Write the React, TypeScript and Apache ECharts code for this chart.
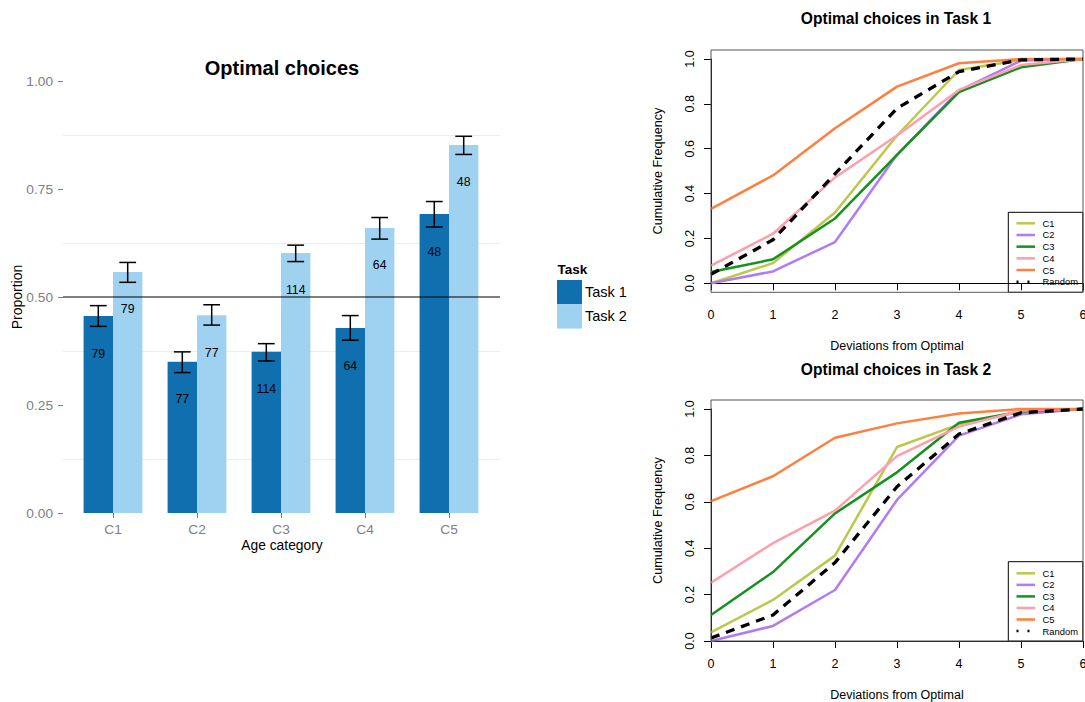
import React, { useEffect, useRef } from 'react';
import * as echarts from 'echarts';

const FONT = '"Liberation Sans", Arial, Helvetica, sans-serif';

// ---- Left chart data ----
const ageCategories = ['C1', 'C2', 'C3', 'C4', 'C5'];
const taskNames = ['Task 1', 'Task 2'];
const task1Proportion = [0.456, 0.35, 0.373, 0.428, 0.692];
const task2Proportion = [0.558, 0.458, 0.602, 0.66, 0.852];
const task1Lower = [0.432, 0.325, 0.352, 0.4, 0.662];
const task1Upper = [0.48, 0.373, 0.392, 0.457, 0.721];
const task2Lower = [0.534, 0.435, 0.582, 0.634, 0.83];
const task2Upper = [0.58, 0.482, 0.62, 0.684, 0.872];
const sampleSizes = [79, 77, 114, 64, 48];
const chanceLevel = 0.5;

// ---- Right charts data ----
const deviations = [0, 1, 2, 3, 4, 5, 6];
const lineNames = ['C1', 'C2', 'C3', 'C4', 'C5', 'Random'];
const t1C1 = [0.0, 0.09, 0.316, 0.659, 0.951, 0.996, 1.0];
const t1C2 = [0.0, 0.053, 0.184, 0.573, 0.859, 0.993, 1.0];
const t1C3 = [0.05, 0.107, 0.289, 0.573, 0.852, 0.963, 1.0];
const t1C4 = [0.079, 0.221, 0.472, 0.659, 0.862, 0.973, 1.0];
const t1C5 = [0.332, 0.481, 0.691, 0.877, 0.981, 1.0, 1.0];
const t1Random = [0.04, 0.194, 0.488, 0.78, 0.944, 0.996, 1.0];
const t2C1 = [0.037, 0.177, 0.368, 0.836, 0.934, 0.988, 1.0];
const t2C2 = [0.0, 0.065, 0.22, 0.608, 0.885, 0.977, 1.0];
const t2C3 = [0.112, 0.297, 0.55, 0.727, 0.941, 0.989, 1.0];
const t2C4 = [0.251, 0.422, 0.562, 0.797, 0.924, 0.993, 1.0];
const t2C5 = [0.603, 0.71, 0.876, 0.938, 0.981, 1.0, 1.0];
const t2Random = [0.013, 0.112, 0.338, 0.665, 0.892, 0.984, 1.0];

const barColors = ['#1070AF', '#9FD1F1'];
const lineColors = ['#BCC84C', '#B07CF5', '#16901F', '#FF9EAD', '#FF7F3F', '#000000'];

function buildOption() {
  const task1Series = [t1C1, t1C2, t1C3, t1C4, t1C5, t1Random];
  const task2Series = [t2C1, t2C2, t2C3, t2C4, t2C5, t2Random];

  const lineSeries = (arr: number[][], gridIdx: number) =>
    arr.map((vals, k) => ({
      type: 'line',
      name: lineNames[k],
      xAxisIndex: gridIdx,
      yAxisIndex: gridIdx,
      data: vals.map((v, i) => [deviations[i], v]),
      symbol: 'none',
      clip: false,
      z: 3 + k,
      lineStyle: {
        color: lineColors[k],
        width: k === 5 ? 3.3 : 2.5,
        type: k === 5 ? [9, 7] : 'solid',
        cap: 'butt',
      },
    }));

  const errorSeries = (lo: number[], hi: number[], sign: number) => ({
    type: 'custom',
    xAxisIndex: 0,
    yAxisIndex: 0,
    z: 6,
    data: lo.map((l, i) => [i, l, hi[i]]),
    encode: { x: 0, y: [1, 2] },
    renderItem: (params: any, api: any) => {
      const i = api.value(0);
      const l = api.value(1);
      const h = api.value(2);
      const band = api.size([1, 0])[0];
      const ph = api.coord([i, h]);
      const pl = api.coord([i, l]);
      const x = ph[0] + sign * band * 0.175;
      const hw = band * 0.1;
      const style = { stroke: '#000', lineWidth: 1.5 };
      return {
        type: 'group',
        children: [
          { type: 'line', shape: { x1: x, y1: ph[1], x2: x, y2: pl[1] }, style },
          { type: 'line', shape: { x1: x - hw, y1: ph[1], x2: x + hw, y2: ph[1] }, style },
          { type: 'line', shape: { x1: x - hw, y1: pl[1], x2: x + hw, y2: pl[1] }, style },
        ],
      };
    },
  });

  const rightXAxis = (gridIndex: number, offset: number) => ({
    type: 'value',
    gridIndex,
    min: 0,
    max: 6,
    interval: 1,
    offset,
    axisLine: { show: true, lineStyle: { color: '#000', width: 1 } },
    axisTick: { show: true, inside: false, length: 7, lineStyle: { color: '#000' } },
    axisLabel: { show: true, color: '#000', fontSize: 12.5, fontFamily: FONT, margin: 16, showMinLabel: true, showMaxLabel: true, hideOverlap: false },
    splitLine: { show: false },
  });
  const rightYAxis = (gridIndex: number) => ({
    type: 'value',
    gridIndex,
    min: 0,
    max: 1,
    interval: 0.2,
    axisLine: { show: true, lineStyle: { color: '#000', width: 1 } },
    axisTick: { show: true, inside: false, length: 7, lineStyle: { color: '#000' } },
    axisLabel: {
      show: true,
      color: '#000',
      fontSize: 12.5,
      fontFamily: FONT,
      rotate: 90,
      margin: 15,
      formatter: (v: number) => v.toFixed(1),
    },
    splitLine: { show: false },
  });

  const txt = (text: string, x: number, y: number, size: number, bold = false, rot = 0, color = '#000', align = 'center') => ({
    type: 'text',
    x,
    y,
    rotation: rot,
    z: 50,
    style: {
      text,
      fill: color,
      fontSize: size,
      fontWeight: bold ? 'bold' : 'normal',
      fontFamily: FONT,
      textAlign: align,
      align,
      textVerticalAlign: 'middle',
      verticalAlign: 'middle',
    },
  });

  const lineLegend = (boxY: number, boxH: number, y0: number, step: number) => {
    const children: any[] = [
      { type: 'rect', shape: { x: 1008.3, y: boxY, width: 74.5, height: boxH }, style: { fill: '#fff', stroke: '#000', lineWidth: 1 } },
    ];
    lineNames.forEach((n, k) => {
      const y = y0 + k * step;
      children.push({
        type: 'line',
        shape: { x1: 1016.5, y1: y, x2: 1035, y2: y },
        style: {
          stroke: lineColors[k],
          lineWidth: 2.5,
          lineDash: k === 5 ? [2, 9] : null,
        },
      });
      children.push(txt(n, 1042.5, y, 9.4, false, 0, '#000', 'left'));
    });
    return { type: 'group', z: 100, children };
  };

  return {
    animation: false,
    backgroundColor: '#fff',
    textStyle: { fontFamily: FONT },
    grid: [
      { left: 71, top: 81, width: 420, height: 432, outerBoundsMode: 'none', containLabel: false },
      { left: 63, top: 81, width: 437, height: 432, outerBoundsMode: 'none', containLabel: false },
      { left: 711, top: 59, width: 372, height: 224.3, outerBoundsMode: 'none', containLabel: false },
      { left: 711, top: 409, width: 372, height: 232, outerBoundsMode: 'none', containLabel: false },
    ],
    legend: {
      data: taskNames,
      orient: 'vertical',
      left: 557,
      top: 280,
      itemWidth: 25,
      itemHeight: 24.3,
      itemGap: 0,
      icon: 'rect',
      padding: 0,
      selectedMode: false,
      textStyle: { fontSize: 14.5, fontFamily: FONT, color: '#000', padding: [0, 0, 0, -2] },
    },
    xAxis: [
      {
        type: 'category',
        gridIndex: 0,
        data: ageCategories,
        axisLine: { show: false },
        axisTick: { show: true, alignWithLabel: true, length: 5, lineStyle: { color: '#7f7f7f' } },
        axisLabel: { color: '#7f7f7f', fontSize: 13.7, fontFamily: FONT, margin: 9 },
        splitLine: { show: false },
      },
      { type: 'value', gridIndex: 1, min: 0, max: 1, show: false },
      rightXAxis(2, 9),
      rightXAxis(3, 0),
    ],
    yAxis: [
      {
        type: 'value',
        gridIndex: 0,
        min: 0,
        max: 1,
        interval: 0.25,
        offset: 8,
        axisLine: { show: false },
        axisTick: { show: true, length: 5, lineStyle: { color: '#7f7f7f' } },
        axisLabel: { color: '#7f7f7f', fontSize: 13.7, fontFamily: FONT, margin: 10, formatter: (v: number) => v.toFixed(2) },
        splitLine: { show: false },
      },
      {
        type: 'value',
        gridIndex: 1,
        min: 0,
        max: 1,
        interval: 0.125,
        axisLine: { show: false },
        axisTick: { show: false },
        axisLabel: { show: false },
        splitLine: { show: true, lineStyle: { color: ['rgba(0,0,0,0)', '#ededed'], width: 1 } },
      },
      rightYAxis(2),
      rightYAxis(3),
    ],
    series: [
      {
        type: 'line',
        name: 'chance',
        xAxisIndex: 1,
        yAxisIndex: 1,
        data: [[0, chanceLevel], [1, chanceLevel]],
        symbol: 'none',
        z: 8,
        lineStyle: { color: '#000', width: 1.2 },
      },
      {
        type: 'bar',
        name: taskNames[0],
        xAxisIndex: 0,
        yAxisIndex: 0,
        data: task1Proportion,
        barWidth: 29.4,
        barGap: '0%',
        itemStyle: { color: barColors[0] },
        label: {
          show: true,
          position: 'insideTop',
          distance: 31.5,
          color: '#000',
          fontSize: 12.3,
          fontFamily: FONT,
          formatter: (p: any) => String(sampleSizes[p.dataIndex]),
        },
      },
      {
        type: 'bar',
        name: taskNames[1],
        xAxisIndex: 0,
        yAxisIndex: 0,
        data: task2Proportion,
        barWidth: 29.4,
        barGap: '0%',
        itemStyle: { color: barColors[1] },
        label: {
          show: true,
          position: 'insideTop',
          distance: 31.5,
          color: '#000',
          fontSize: 12.3,
          fontFamily: FONT,
          formatter: (p: any) => String(sampleSizes[p.dataIndex]),
        },
      },
      errorSeries(task1Lower, task1Upper, -1),
      errorSeries(task2Lower, task2Upper, 1),
      ...lineSeries(task1Series, 2),
      ...lineSeries(task2Series, 3),
    ],
    graphic: [
      txt('Optimal choices', 282, 68, 20, true),
      txt('Proportion', 17, 297, 14, false, Math.PI / 2),
      txt('Age category', 282, 545.5, 13.8),
      txt('Task', 557.5, 269.3, 13.5, true, 0, '#000', 'left'),
      txt('Optimal choices in Task 1', 896, 18.3, 15.6, true),
      txt('Optimal choices in Task 2', 896, 369.5, 15.6, true),
      txt('Deviations from Optimal', 897, 345.7, 12.5),
      txt('Deviations from Optimal', 897, 695, 12.5),
      txt('Cumulative Frequency', 658, 171, 12.7, false, Math.PI / 2),
      txt('Cumulative Frequency', 658, 520.5, 12.7, false, Math.PI / 2),
      { type: 'rect', z: 40, shape: { x: 711, y: 50, width: 372, height: 242.3 }, style: { fill: 'none', stroke: '#555', lineWidth: 1 } },
      { type: 'rect', z: 40, shape: { x: 711, y: 400, width: 372, height: 241 }, style: { fill: 'none', stroke: '#555', lineWidth: 1 } },
      lineLegend(212.3, 80, 223.3, 11.68),
      lineLegend(561.7, 79.5, 573.3, 11.55),
    ],
  };
}

export default function App() {
  const ref = useRef<HTMLDivElement>(null);
  useEffect(() => {
    if (!ref.current) return;
    const chart = echarts.init(ref.current, null, { renderer: 'svg' });
    chart.setOption(buildOption() as any);
    return () => chart.dispose();
  }, []);
  return (
    <div
      ref={ref}
      style={{ position: 'fixed', left: 0, top: 0, width: 1085, height: 702, background: '#fff' }}
    />
  );
}
